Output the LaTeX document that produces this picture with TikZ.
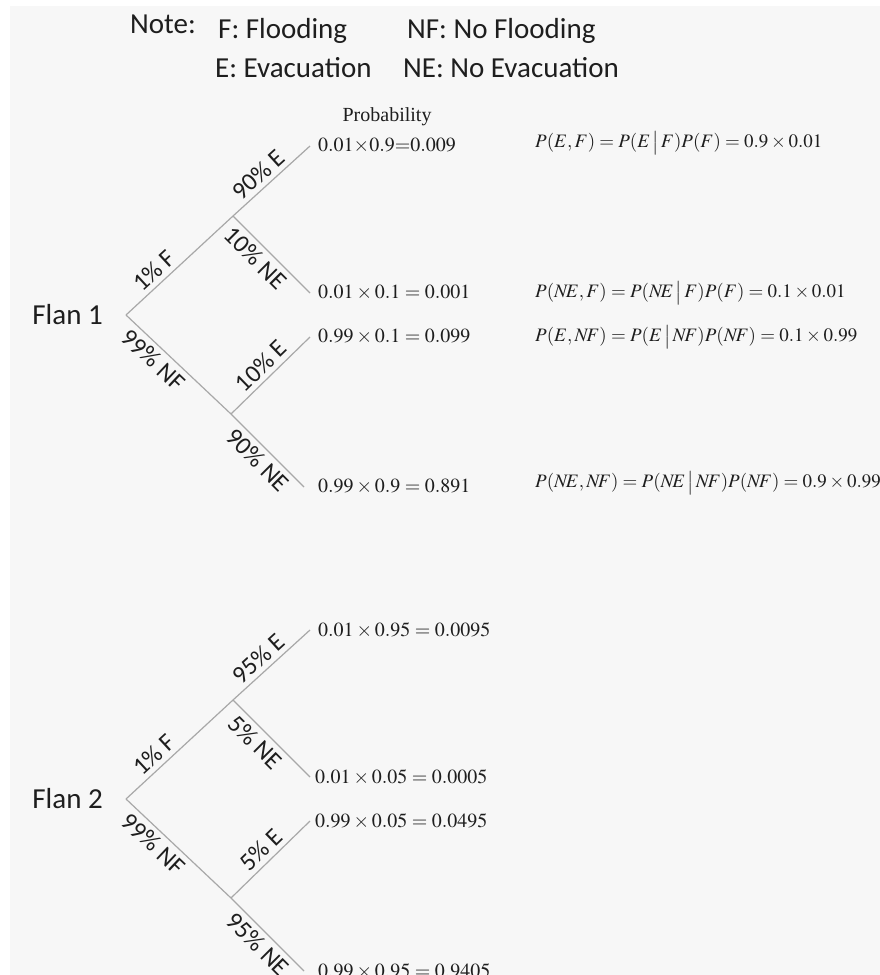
\documentclass[tikz,border=0pt]{standalone}
\usepackage{mathptmx}
\usepackage[no-math]{fontspec}
\setmainfont{Liberation Serif}
\newfontfamily\calibri{Carlito}
\usetikzlibrary{positioning}
\usepackage{xcolor}
\definecolor{bggray}{HTML}{F7F7F7}
\definecolor{branchgray}{HTML}{A8A8A8}
\definecolor{inkgray}{HTML}{1E1E1E}
\newcommand{\cond}{\mkern2mu\big|\mkern2mu}

\begin{document}
\begin{tikzpicture}[
x=1pt, y=-1pt,
branch/.style={draw=branchgray, line width=1.2pt},
note/.style={font=\calibri\fontsize{29}{34}\selectfont, text=inkgray, inner sep=0pt, anchor=base west},
flan/.style={font=\calibri\fontsize{29}{34}\selectfont, text=inkgray, inner sep=0pt},
pct/.style={font=\calibri\fontsize{25}{29}\selectfont, text=inkgray, sloped, inner sep=4.5pt},
leaf/.style={font=\fontsize{20}{24}\selectfont, text=inkgray, anchor=west, inner xsep=8pt, inner ysep=0pt},
formula/.style={font=\fontsize{19}{23}\selectfont, text=inkgray, anchor=west, inner sep=0pt},
header/.style={font=\fontsize{20}{24}\selectfont, text=inkgray, inner sep=0pt}
]

\fill[white] (0,0) rectangle (880,975);
\fill[bggray] (10,6) rectangle (880,975);
\useasboundingbox (0,0) rectangle (880,975);

\node[note] (notekey) at (130,33) {Note:};
\node[note] (fkey) at (218,38) {F: Flooding};
\node[note] (nfkey) at (407,38) {NF: No Flooding};
\node[note] (ekey) at (215,77) {E: Evacuation};
\node[note] (nekey) at (403,77) {NE: No Evacuation};

\coordinate (root1) at (126,315);
\coordinate (f1) at (233,216);
\coordinate (nf1) at (231,414);
\node[flan, left=23pt of root1] (flan1) {Flan 1};

\node[leaf] (ef1) at (310,146) {$0.01{\times}0.9{=}0.009$};
\node[leaf] (nef1) at (310,293) {$0.01\times0.1=0.001$};
\node[leaf] (enf1) at (310,337) {$0.99\times0.1=0.099$};
\node[leaf, inner xsep=14pt] (nenf1) at (304,487) {$0.99\times0.9=0.891$};
\node[header, above=12pt of ef1] (probhead) {Probability};

\node[formula] (pef1) at (535,143) {$P(E,F)=P(E\cond F)P(F)=0.9\times0.01$};
\node[formula] (pnef1) at (535,293) {$P(N\!E,F)=P(N\!E\cond F)P(F)=0.1\times0.01$};
\node[formula] (penf1) at (535,337) {$P(E,N\!F)=P(E\cond N\!F)P(N\!F)=0.1\times0.99$};
\node[formula] (pnenf1) at (535,483) {$P(N\!E,N\!F)=P(N\!E\cond N\!F)P(N\!F)=0.9\times0.99$};

\draw[branch] (root1) -- node[pct, pos=0.35, above] {1\% F} (f1);
\draw[branch] (root1) -- node[pct, pos=0.35, below] {99\% NF} (nf1);
\draw[branch] (f1) -- node[pct, pos=0.45, above] {90\% E} (ef1.west);
\draw[branch] (f1) -- node[pct, pos=0.42, below] {10\% NE} (nef1.west);
\draw[branch] (nf1) -- node[pct, pos=0.5, above] {10\% E} (enf1.west);
\draw[branch] (nf1) -- node[pct, pos=0.5, below] {90\% NE} (nenf1.west);

\coordinate (root2) at (126,799);
\coordinate (f2) at (233,700);
\coordinate (nf2) at (231,898);
\node[flan, left=23pt of root2] (flan2) {Flan 2};

\node[leaf] (ef2) at (310,630) {$0.01\times0.95=0.0095$};
\node[leaf, inner xsep=5pt] (nef2) at (310,777) {$0.01\times0.05=0.0005$};
\node[leaf, inner xsep=5pt] (enf2) at (310,821) {$0.99\times0.05=0.0495$};
\node[leaf, inner xsep=14pt] (nenf2) at (304,971) {$0.99\times0.95=0.9405$};

\draw[branch] (root2) -- node[pct, pos=0.35, above] {1\% F} (f2);
\draw[branch] (root2) -- node[pct, pos=0.35, below] {99\% NF} (nf2);
\draw[branch] (f2) -- node[pct, pos=0.45, above] {95\% E} (ef2.west);
\draw[branch] (f2) -- node[pct, pos=0.42, below] {5\% NE} (nef2.west);
\draw[branch] (nf2) -- node[pct, pos=0.5, above] {5\% E} (enf2.west);
\draw[branch] (nf2) -- node[pct, pos=0.5, below] {95\% NE} (nenf2.west);

\end{tikzpicture}
\end{document}
